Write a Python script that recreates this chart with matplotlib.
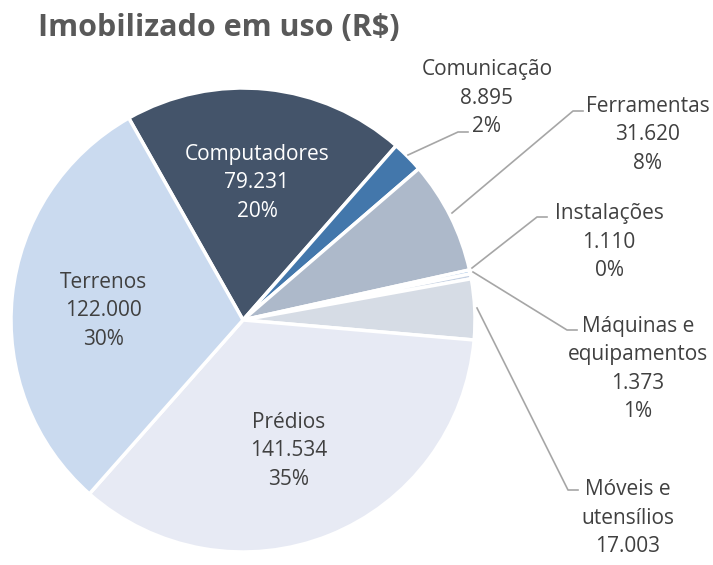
import matplotlib.pyplot as plt

categories = [
    "Computadores",
    "Comunicação",
    "Ferramentas",
    "Instalações",
    "Máquinas e\nequipamentos",
    "Móveis e\nutensílios",
    "Prédios",
    "Terrenos",
]
values = [79231, 8895, 31620, 1110, 1373, 17003, 141534, 122000]
value_labels = ["79.231", "8.895", "31.620", "1.110", "1.373", "17.003", "141.534", "122.000"]
# the Móveis percentage falls outside the picture in the original
pct_labels = ["20%", "2%", "8%", "0%", "1%", None, "35%", "30%"]

colors = ["#44546A", "#4377AB", "#ADB9CA", "#8FB4DE", "#C4D0E2", "#D6DCE5", "#E7EAF4", "#CADAEF"]

plt.rcParams["font.family"] = ["Open Sans", "DejaVu Sans"]

fig = plt.figure(figsize=(7.13, 5.65), dpi=100)
cx, cy, r = 243, 320, 232
ax = fig.add_axes([(cx - r) / 713, (565 - cy - r) / 565, 2 * r / 713, 2 * r / 565])

ax.pie(
    values,
    colors=colors,
    startangle=119.5,
    counterclock=False,
    radius=1.0,
    wedgeprops=dict(edgecolor="white", linewidth=2.5),
)
ax.set_xlim(-1, 1)
ax.set_ylim(-1, 1)
ax.set_aspect("equal")
ax.axis("off")


def px(x, y):
    return (x - cx) / r, (cy - y) / r


def label(i):
    parts = [categories[i], value_labels[i]]
    if pct_labels[i]:
        parts.append(pct_labels[i])
    return "\n".join(parts)


text_color = "#404040"
fs = 15
ls = 1.45

# labels inside the big slices
inside = {0: (257, 183, "white"), 7: (103, 311, text_color), 6: (289, 451, text_color)}
for i, (x, y, c) in inside.items():
    ax.text(*px(x, y), label(i), ha="center", va="center", fontsize=fs,
            color=c, linespacing=ls)

# outside labels with leader lines
outside = {
    1: ((487, 98), [(408, 155), (458, 132), (468, 132)]),
    2: ((648, 135), [(452, 213), (573, 111), (583, 111)]),
    3: ((609, 242), [(472, 268), (537, 217), (547, 217)]),
    4: ((638, 369), [(473, 272), (567, 330), (577, 330)]),
    5: ((628, 518), [(477, 308), (568, 490), (578, 490)]),
}
for i, ((x, y), pts) in outside.items():
    ax.text(*px(x, y), label(i), ha="center", va="center", fontsize=fs,
            color=text_color, linespacing=ls, clip_on=False)
    xs, ys = zip(*[px(a, b) for a, b in pts])
    ax.plot(xs, ys, color="#A6A6A6", linewidth=1.2, clip_on=False)

fig.text(38 / 713, 1 - 28 / 565, "Imobilizado em uso (R$)", fontsize=22,
         fontweight="bold", color="#595959", ha="left", va="center")

fig.savefig("out.png", dpi=100)
